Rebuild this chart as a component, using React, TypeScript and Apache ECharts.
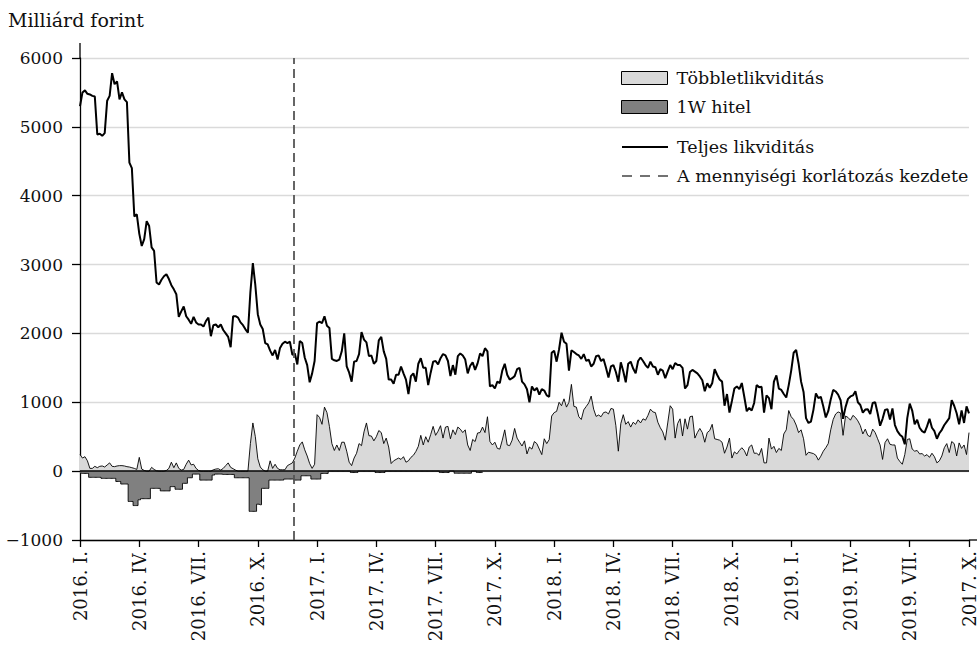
import React, { useEffect, useRef } from "react";
import * as echarts from "echarts";

// x positions: months since 2016 January, one sample every 1/8 month
const STEP_MONTHS = 1 / 8;
const quarterLabels = [
  "2016. I.", "2016. IV.", "2016. VII.", "2016. X.",
  "2017. I.", "2017. IV.", "2017. VII.", "2017. X.",
  "2018. I.", "2018. IV.", "2018. VII.", "2018. X.",
  "2019. I.", "2019. IV.", "2019. VII.", "2017. X.",
];
const restrictionStartMonth = 10.83;

// Teljes likviditás (Mrd Ft)
const totalLiquidity = [
  5300, 5500, 5530, 5480, 5470, 5450, 5440, 4890, 4900, 4870,
  4910, 5380, 5450, 5780, 5620, 5660, 5400, 5500, 5400, 5360,
  4480, 4400, 3700, 3730, 3450, 3270, 3370, 3630, 3560, 3250,
  3200, 2740, 2710, 2780, 2830, 2860, 2790, 2700, 2640, 2570,
  2240, 2320, 2390, 2250, 2200, 2140, 2240, 2160, 2130, 2130,
  2100, 2180, 2230, 1960, 2120, 2130, 2090, 2130, 2050, 2000,
  1950, 1800, 2250, 2250, 2230, 2160, 2120, 2060, 2010, 2600,
  3020, 2700, 2280, 2130, 2065, 1860, 1840, 1750, 1680, 1760,
  1620, 1790, 1850, 1880, 1860, 1880, 1690, 1710, 1550, 1890,
  1860, 1650, 1540, 1290, 1420, 1600, 2150, 2170, 2150, 2250,
  2110, 2080, 1630, 1610, 1600, 1620, 1740, 2000, 1520, 1430,
  1300, 1590, 1600, 1700, 2020, 1910, 1870, 1670, 1680, 1560,
  1600, 1900, 1950, 1740, 1630, 1330, 1330, 1270, 1400, 1400,
  1520, 1420, 1330, 1120, 1380, 1420, 1300, 1560, 1640, 1500,
  1500, 1250, 1430, 1590, 1600, 1550, 1640, 1700, 1680, 1600,
  1380, 1540, 1400, 1670, 1710, 1680, 1620, 1420, 1530, 1580,
  1470, 1565, 1710, 1670, 1785, 1740, 1230, 1250, 1200, 1300,
  1280, 1460, 1560, 1400, 1330, 1350, 1380, 1480, 1500, 1300,
  1260, 1190, 1000, 1230, 1170, 1210, 1110, 1190, 1170, 1100,
  1080, 1720, 1750, 1590, 1770, 2010, 1880, 1850, 1460, 1755,
  1730, 1700, 1680, 1630, 1700, 1600, 1620, 1520, 1560, 1670,
  1680, 1600, 1630, 1500, 1360, 1520, 1540, 1440, 1300, 1580,
  1450, 1290, 1560, 1590, 1490, 1420, 1600, 1650, 1600, 1540,
  1500, 1590, 1520, 1510, 1400, 1480, 1460, 1350, 1450, 1540,
  1480, 1570, 1540, 1540, 1500, 1200, 1250, 1440, 1470, 1446,
  1420, 1375, 1320, 1160, 1275, 1210, 1277, 1480, 1400, 1330,
  1300, 950, 1120, 850, 1020, 1200, 1230, 1190, 1280, 1080,
  870, 920, 880, 990, 1250, 1220, 1225, 850, 1100, 1060,
  900, 1300, 1390, 1200, 1180, 1120, 1070, 1250, 1460, 1720,
  1760, 1560, 1300, 1150, 770, 700, 720, 890, 1130, 1060,
  1080, 940, 780, 870, 1040, 1180, 1157, 1110, 1030, 760,
  930, 1050, 1085, 1100, 1160, 1000, 960, 850, 895, 900,
  830, 990, 1000, 840, 660, 760, 890, 900, 750, 910,
  670, 580, 530, 500, 390, 770, 980, 880, 680, 745,
  630, 580, 560, 650, 760, 630, 580, 470, 550, 600,
  670, 720, 770, 1030, 950, 840, 680, 880, 700, 940, 840,
];

// Többletlikviditás (Mrd Ft)
const excessLiquidity = [
  240, 190, 210, 150, 40, 40, 70, 50, 70, 75,
  60, 90, 120, 70, 65, 75, 80, 80, 75, 65,
  60, 50, 40, 25, 200, 30, 10, 0, 0, 55,
  25, 5, 0, 0, 0, 10, 40, 130, 50, 120,
  40, 15, 25, 100, 160, 90, 100, 40, 10, 0,
  0, 0, 0, 0, 20, 30, 35, 15, 40, 80,
  120, 55, 35, 15, 0, 0, 0, 0, 0, 400,
  700, 500, 180, 60, 20, 0, 0, 150, 40, 100,
  40, 20, 20, 20, 80, 100, 120, 190, 290, 380,
  425, 310, 220, 110, 40, 100, 820, 780, 680, 930,
  850, 650, 400, 300, 380, 300, 420, 420, 290, 130,
  80, 190, 260, 400, 370, 570, 700, 515, 510, 440,
  500, 590, 560, 400, 480, 350, 110, 150, 170, 190,
  170, 210, 130, 150, 200, 230, 285, 360, 520, 380,
  500, 420, 530, 650, 520, 580, 660, 480, 640, 650,
  470, 600, 530, 640, 610, 560, 600, 380, 300, 460,
  430, 554, 560, 640, 560, 790, 430, 380, 420, 330,
  320, 450, 600, 380, 370, 450, 620, 480, 420, 365,
  440, 250, 350, 320, 430, 400, 320, 240, 470, 400,
  458, 800, 850, 868, 1000, 950, 1050, 930, 1000, 1260,
  940, 930, 790, 750, 890, 940, 990, 1090, 900, 795,
  815, 790, 850, 860, 830, 910, 900, 660, 290, 690,
  820, 680, 720, 640, 710, 680, 745, 700, 760, 740,
  810, 900, 860, 850, 710, 630, 570, 450, 700, 950,
  900, 480, 690, 760, 510, 760, 610, 790, 800, 480,
  560, 620, 560, 420, 560, 590, 680, 470, 460, 450,
  420, 260, 350, 480, 190, 280, 250, 300, 340, 300,
  220, 350, 380, 260, 260, 230, 330, 120, 120, 480,
  320, 360, 270, 330, 300, 540, 600, 880, 790, 750,
  670, 560, 600, 470, 230, 275, 265, 255, 230, 160,
  217, 290, 340, 400, 600, 750, 830, 860, 845, 520,
  800, 780, 740, 810, 780, 730, 660, 540, 610, 520,
  500, 610, 560, 470, 380, 170, 415, 470, 390, 380,
  380, 190, 140, 100, 240, 460, 470, 320, 290, 300,
  250, 255, 220, 240, 200, 260, 210, 120, 150, 220,
  340, 400, 270, 430, 400, 220, 410, 330, 380, 241, 560,
];

// 1W hitel (Mrd Ft, negative)
const oneWeekCredit = [
  -30, -33, -33, -33, -90, -90, -90, -90, -90, -105,
  -105, -105, -105, -105, -105, -150, -150, -187, -187, -187,
  -440, -440, -500, -500, -416, -400, -400, -400, -400, -250,
  -250, -250, -250, -287, -287, -287, -287, -225, -225, -263,
  -263, -263, -177, -177, -96, -96, -43, -43, -43, -130,
  -130, -130, -130, -130, -57, -43, -43, -43, -48, -48,
  -48, -48, -48, -96, -96, -96, -96, -96, -96, -584,
  -584, -584, -480, -488, -250, -250, -250, -130, -130, -130,
  -130, -130, -130, -115, -115, -115, -115, -130, -130, -130,
  -67, -67, -67, -67, -115, -115, -115, -115, -33, -33,
  -33, 0, 0, 0, 0, 0, 0, 0, 0, 0,
  -20, -20, -20, 0, 0, 0, 0, 0, 0, 0,
  -20, -20, -20, -20, 0, 0, 0, 0, 0, 0,
  0, 0, 0, 0, 0, 0, 0, 0, 0, 0,
  0, 0, 0, 0, 0, 0, -20, -20, -20, -20,
  0, 0, -30, -30, -30, -30, -30, -30, -30, 0,
  0, -20, -20, -20,
];

const FONT = '"DejaVu Serif", "Liberation Serif", serif';
const toXY = (arr: number[]) => arr.map((v, i) => [i * STEP_MONTHS, v]);

export default function App() {
  const ref = useRef<HTMLDivElement>(null);
  useEffect(() => {
    if (!ref.current) return;
    const chart = echarts.init(ref.current, undefined, { renderer: "svg" });
    const GL = 80, GT = 58, GR = 10, GB = 105;
    const legendText = { fontFamily: FONT, fontSize: 17.5, color: "#111", padding: [0, 0, 0, 4] };
    chart.setOption({
      animation: false,
      backgroundColor: "#fff",
      grid: { left: GL, right: GR, top: GT, bottom: GB, containLabel: false, outerBoundsMode: "none" },
      graphic: [
        { type: "text", left: 8, top: 10, style: { text: "Milliárd forint", font: `19px ${FONT}`, fill: "#111" } },
        { type: "line", shape: { x1: GL, y1: 43, x2: GL, y2: GT }, style: { stroke: "#000", lineWidth: 1.3 } },
        { type: "line", shape: { x1: 969, y1: 540, x2: 977, y2: 540 }, style: { stroke: "#000", lineWidth: 1.3 } },
      ],
      legend: [
        {
          orient: "vertical", left: 616, top: 64, itemWidth: 46, itemHeight: 13, itemGap: 11,
          selectedMode: false,
          textStyle: legendText,
          data: [
            { name: "Többletlikviditás", icon: "rect", itemStyle: { color: "#d9d9d9", borderColor: "#000", borderWidth: 1 } },
            { name: "1W hitel", icon: "rect", itemStyle: { color: "#808080", borderColor: "#000", borderWidth: 1 } },
          ],
        },
        {
          orient: "vertical", left: 616, top: 133, itemWidth: 46, itemHeight: 14, itemGap: 11,
          selectedMode: false,
          textStyle: legendText,
          data: [
            { name: "Teljes likviditás", itemStyle: { opacity: 0 }, lineStyle: { color: "#000", width: 2 } },
            { name: "A mennyiségi korlátozás kezdete", itemStyle: { opacity: 0 }, lineStyle: { type: [10, 8], color: "#444", width: 1.6 } },
          ],
        },
      ],
      xAxis: {
        type: "value", min: 0, max: 45, interval: 3,
        axisLine: { show: true, onZero: false, lineStyle: { color: "#000", width: 1.3 } },
        axisTick: { show: true, length: 7, lineStyle: { color: "#000", width: 1.3 } },
        axisLabel: {
          rotate: 90, margin: 11, fontFamily: FONT, fontSize: 18, color: "#111",
          formatter: (v: number) => quarterLabels[Math.round(v / 3)] ?? "",
        },
        splitLine: { show: false },
      },
      yAxis: {
        type: "value", min: -1000, max: 6000, interval: 1000,
        axisLine: { show: true, lineStyle: { color: "#000", width: 1.3 } },
        axisTick: { show: true, length: 8, lineStyle: { color: "#000", width: 1.3 } },
        axisLabel: {
          margin: 17, fontFamily: FONT, fontSize: 17, color: "#111",
          formatter: (v: number) => (v < 0 ? "\u2212" + Math.abs(v) : String(v)),
        },
        splitLine: { show: true, lineStyle: { color: "#dadada", width: 1.3 } },
      },
      series: [
        {
          name: "Többletlikviditás", type: "line", data: toXY(excessLiquidity),
          symbol: "none", z: 2,
          lineStyle: { color: "#000", width: 0.9 },
          itemStyle: { color: "#d9d9d9" },
          areaStyle: { color: "#d9d9d9", opacity: 1 },
          markLine: {
            silent: true, symbol: "none", label: { show: false },
            lineStyle: { color: "#000", width: 1.6, type: "solid" },
            data: [{ yAxis: 0 }],
          },
        },
        {
          name: "1W hitel", type: "line", data: toXY(oneWeekCredit),
          symbol: "none", z: 2, step: "middle",
          lineStyle: { color: "#000", width: 0.9 },
          itemStyle: { color: "#808080" },
          areaStyle: { color: "#808080", opacity: 1 },
        },
        {
          name: "Teljes likviditás", type: "line", data: toXY(totalLiquidity),
          symbol: "none", z: 4,
          lineStyle: { color: "#000", width: 2 },
          itemStyle: { color: "#000" },
        },
        {
          name: "A mennyiségi korlátozás kezdete", type: "line", data: [],
          symbol: "none", z: 5,
          lineStyle: { color: "#444", width: 1.6, type: [10, 8] },
          itemStyle: { color: "#444" },
          markLine: {
            silent: true, symbol: "none", label: { show: false },
            lineStyle: { color: "#555", width: 1.8, type: [9, 5] },
            data: [{ xAxis: restrictionStartMonth }],
          },
        },
      ],
    });
    return () => chart.dispose();
  }, []);
  return <div ref={ref} style={{ position: "absolute", left: 0, top: 0, width: 979, height: 645 }} />;
}
